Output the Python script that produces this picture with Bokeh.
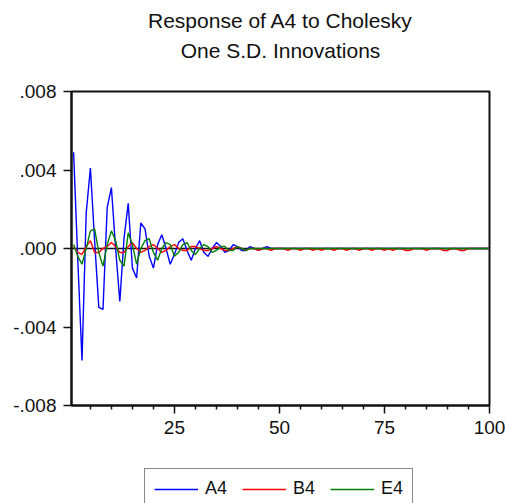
from bokeh.plotting import figure
from bokeh.layouts import column
from bokeh.models import (Range1d, FixedTicker, CustomJSTickFormatter, Legend,
                          LegendItem, Span)
from bokeh.core.properties import value
from bokeh.embed import file_html
from bokeh.resources import INLINE

periods = list(range(1, 101))

a4 = [0.0049, -0.0006, -0.0057, 0.0018, 0.0041, 0.0004, -0.0030, -0.0031, 0.0021, 0.0031,
      0.0000, -0.0027, 0.0005, 0.0023, -0.0010, -0.0015, 0.0013, 0.0010, -0.0004, -0.0010,
      0.0002, 0.0007, 0.0000, -0.0008, -0.0003, 0.0003, 0.0005, -0.0001, -0.0006, 0.0000,
      0.0004, -0.0002, -0.0004, 0.0000, 0.0003, 0.0001, -0.0002, -0.0001, 0.0002, 0.0001,
      -0.0001, -0.0001, 0.0001, 0.0000, -0.0001, 0.0000, 0.0001, 0.0000, 0.0000, 0.0000,
      0.0000, 0.0000, 0.0000, 0.0000, 0.0000, 0.0000, 0.0000, 0.0000, 0.0000, 0.0000,
      0.0000, 0.0000, 0.0000, 0.0000, 0.0000, 0.0000, 0.0000, 0.0000, 0.0000, 0.0000,
      0.0000, 0.0000, 0.0000, 0.0000, 0.0000, 0.0000, 0.0000, 0.0000, 0.0000, 0.0000,
      0.0000, 0.0000, 0.0000, 0.0000, 0.0000, 0.0000, 0.0000, 0.0000, 0.0000, 0.0000,
      0.0000, 0.0000, 0.0000, 0.0000, 0.0000, 0.0000, 0.0000, 0.0000, 0.0000, 0.0000]

b4 = [0.0001, -0.0002, -0.0003, 0.0001, 0.0004, -0.0002, -0.0002, 0.0000, 0.0001, 0.0003,
      0.0001, -0.0002, -0.0002, 0.0001, 0.0003, 0.0000, -0.0002, -0.0001, 0.0001, 0.0002,
      0.0000, -0.0002, -0.0001, 0.0001, 0.0002, 0.0000, -0.0001, -0.0001, 0.0001, 0.0001,
      0.0000, -0.0001, -0.0001, 0.0000, 0.0001, 0.0000, -0.0001, -0.0001, 0.0000, 0.0001,
      0.0000, -0.0001, 0.0000, 0.0000, -0.0001, 0.0000, 0.0000, -0.0001, 0.0000, 0.0000,
      0.0000, -0.0001, 0.0000, 0.0000, -0.0001, 0.0000, 0.0000, -0.0001, 0.0000, -0.0001,
      0.0000, 0.0000, -0.0001, 0.0000, 0.0000, -0.0001, 0.0000, 0.0000, -0.0001, 0.0000,
      0.0000, -0.0001, 0.0000, 0.0000, -0.0001, 0.0000, -0.0001, 0.0000, 0.0000, -0.0001,
      -0.0001, 0.0000, 0.0000, 0.0000, -0.0001, 0.0000, 0.0000, 0.0000, -0.0001, -0.0001,
      0.0000, 0.0000, -0.0001, -0.0001, 0.0000, 0.0000, 0.0000, 0.0000, 0.0000, 0.0000]

e4 = [0.0002, -0.0004, -0.0008, 0.0000, 0.0009, 0.0010, -0.0002, -0.0009, 0.0002, 0.0009,
      0.0004, -0.0006, -0.0009, 0.0008, 0.0002, -0.0008, 0.0000, 0.0004, 0.0005, -0.0002,
      -0.0006, 0.0000, 0.0003, 0.0002, -0.0004, -0.0002, 0.0002, 0.0003, -0.0001, -0.0003,
      0.0000, 0.0002, 0.0001, -0.0002, -0.0001, 0.0001, 0.0001, -0.0001, -0.0001, 0.0001,
      0.0000, -0.0001, 0.0000, 0.0000, 0.0000, 0.0000, 0.0000, 0.0000, 0.0000, 0.0000,
      0.0000, 0.0000, 0.0000, 0.0000, 0.0000, 0.0000, 0.0000, 0.0000, 0.0000, 0.0000,
      0.0000, 0.0000, 0.0000, 0.0000, 0.0000, 0.0000, 0.0000, 0.0000, 0.0000, 0.0000,
      0.0000, 0.0000, 0.0000, 0.0000, 0.0000, 0.0000, 0.0000, 0.0000, 0.0000, 0.0000,
      0.0000, 0.0000, 0.0000, 0.0000, 0.0000, 0.0000, 0.0000, 0.0000, 0.0000, 0.0000,
      0.0000, 0.0000, 0.0000, 0.0000, 0.0000, 0.0000, 0.0000, 0.0000, 0.0000, 0.0000]

series_names = ["A4", "B4", "E4"]
series_colors = ["#0000ff", "#ff0000", "#008000"]
series_values = [a4, b4, e4]
y_ticks = [-0.008, -0.004, 0.0, 0.004, 0.008]
x_ticks = [25, 50, 75, 100]
x_minor_ticks = [5, 10, 15, 20, 30, 35, 40, 45, 55, 60, 65, 70, 80, 85, 90, 95]
title_lines = ["Response of A4 to Cholesky", "One S.D. Innovations"]

FONT = "Liberation Sans"
INK = "#111111"
W = 505
LEFT, RIGHT = 71, 16   # borders shared by all three stacked figures


def strip(height, x_range, y_range):
    fig = figure(width=W, height=height, output_backend="svg",
                 toolbar_location=None, x_range=x_range, y_range=y_range,
                 min_border_left=LEFT, min_border_right=RIGHT,
                 min_border_top=0, min_border_bottom=0)
    fig.axis.visible = False
    fig.grid.visible = False
    fig.outline_line_color = None
    fig.background_fill_color = "white"
    fig.border_fill_color = "white"
    return fig


# ---- title strip (x in screen pixels across the frame) ----
tfig = strip(80, Range1d(LEFT, W - RIGHT), Range1d(0, 80))
tfig.text(x=[280, 280], y=[60, 30], text=title_lines, text_align="center",
          text_baseline="middle", text_font=value(FONT), text_font_size="21px",
          text_color=INK)

# ---- main chart ----
p = figure(width=W, height=365, output_backend="svg", toolbar_location=None,
           x_range=Range1d(0.5, 100), y_range=Range1d(-0.008, 0.008),
           min_border_left=LEFT, min_border_right=RIGHT, min_border_top=11,
           min_border_bottom=40)
p.background_fill_color = "white"
p.border_fill_color = "white"
p.outline_line_color = INK
p.outline_line_width = 2
p.grid.visible = False

zero = Span(location=0, dimension="width", line_color=INK, line_width=1.5,
            level="underlay")
p.add_layout(zero)

for vals, col in zip(series_values, series_colors):
    p.line(periods, vals, line_color=col, line_width=1.4)

for ax in (p.xaxis[0], p.yaxis[0]):
    ax.axis_line_color = INK
    ax.axis_line_width = 2
    ax.major_tick_line_color = INK
    ax.major_tick_line_width = 1.5
    ax.major_tick_in = 0
    ax.major_tick_out = 8
    ax.major_label_text_font = FONT
    ax.major_label_text_font_size = "19px"
    ax.major_label_text_color = INK
    ax.major_label_standoff = 7

p.xaxis[0].ticker = FixedTicker(ticks=x_ticks, minor_ticks=x_minor_ticks)
p.xaxis[0].minor_tick_line_color = INK
p.xaxis[0].minor_tick_line_width = 1.5
p.xaxis[0].minor_tick_in = 0
p.xaxis[0].minor_tick_out = 4

p.yaxis[0].ticker = FixedTicker(ticks=y_ticks, minor_ticks=[])
p.yaxis[0].minor_tick_line_color = None
p.yaxis[0].formatter = CustomJSTickFormatter(
    code="var s = tick.toFixed(3); return s.replace('0.', '.');")

# ---- legend strip: the same series, scrolled out of its (empty) view ----
lfig = strip(58, Range1d(0.5, 100), Range1d(1, 2))
items = []
for name, vals, col in zip(series_names, series_values, series_colors):
    r = lfig.line(periods, vals, line_color=col, line_width=1.4)
    items.append(LegendItem(label=name, renderers=[r]))

legend = Legend(items=items, orientation="horizontal", location=(73, -6),
                label_text_font=FONT, label_text_font_size="18px",
                label_text_color=INK, border_line_color=INK,
                border_line_width=1.5, glyph_width=44, glyph_height=20,
                label_height=20, label_standoff=7, spacing=15, padding=9,
                margin=0, background_fill_alpha=1.0)
lfig.add_layout(legend, "center")

layout = column(tfig, p, lfig, spacing=0)

open("out.html", "w").write(file_html(layout, INLINE))
